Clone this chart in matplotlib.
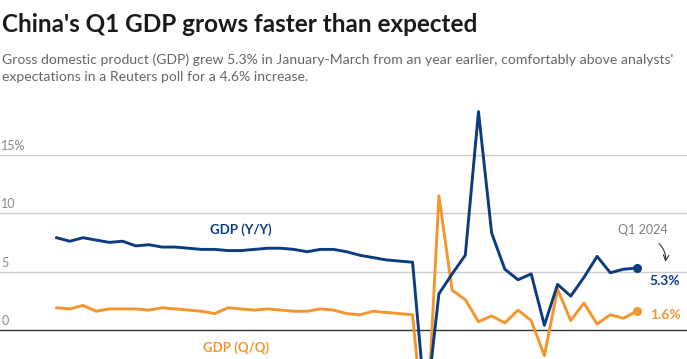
"""China quarterly GDP growth, Y/Y and Q/Q, 2013-2024."""

import matplotlib

matplotlib.use("Agg")
import matplotlib.pyplot as plt
import numpy as np

quarters = [f"{year}Q{q}" for year in range(2013, 2025) for q in range(1, 5)][:45]

gdp_yy = [
    7.9, 7.6, 7.9, 7.7,
    7.5, 7.6, 7.2, 7.3,
    7.1, 7.1, 7.0, 6.9,
    6.9, 6.8, 6.8, 6.9,
    7.0, 7.0, 6.9, 6.7,
    6.9, 6.9, 6.7, 6.4,
    6.2, 6.0, 5.9, 5.8,
    -6.9, 3.1, 4.8, 6.4,
    18.7, 8.3, 5.2, 4.3,
    4.8, 0.4, 3.9, 2.9,
    4.5, 6.3, 4.9, 5.2,
    5.3,
]

gdp_qq = [
    1.9, 1.8, 2.1, 1.6,
    1.8, 1.8, 1.8, 1.7,
    1.9, 1.8, 1.7, 1.6,
    1.4, 1.9, 1.8, 1.7,
    1.8, 1.7, 1.6, 1.6,
    1.8, 1.7, 1.4, 1.3,
    1.6, 1.5, 1.4, 1.3,
    -10.3, 11.5, 3.4, 2.6,
    0.7, 1.2, 0.6, 1.7,
    0.8, -2.2, 3.5, 0.8,
    2.3, 0.5, 1.3, 1.0,
    1.6,
]

y_ticks = [0, 5, 10, 15]
y_tick_labels = ["0", "5", "10", "15%"]

BLUE = "#0c3c80"
ORANGE = "#f4962e"
FONT = "Lato"


def main() -> None:
    plt.rcParams["font.family"] = [FONT, "DejaVu Sans"]
    fig = plt.figure(figsize=(6.87, 3.59), dpi=100)
    ax = fig.add_axes([0, 0, 1, 259 / 359])

    x = np.arange(len(quarters))
    ax.set_xlim(-4.3, 47.82)
    ax.set_ylim(-2.49, 19.7)

    for tick, label in zip(y_ticks, y_tick_labels):
        color = "#333333" if tick == 0 else "#cccccc"
        ax.axhline(tick, color=color, linewidth=1.0, zorder=1)
        ax.annotate(
            label,
            xy=(0, tick),
            xycoords=("axes fraction", "data"),
            xytext=(1, 2),
            textcoords="offset points",
            ha="left",
            va="bottom",
            fontsize=9,
            color="#8a8a8a",
        )

    ax.plot(x, gdp_yy, color=BLUE, linewidth=2.1, solid_joinstyle="round", zorder=3)
    ax.plot(x, gdp_qq, color=ORANGE, linewidth=2.1, solid_joinstyle="round", zorder=2)
    ax.plot(x[-1], gdp_yy[-1], "o", color=BLUE, markersize=5.5, zorder=4)
    ax.plot(x[-1], gdp_qq[-1], "o", color=ORANGE, markersize=5.5, zorder=4)

    ax.text(14.0, 8.6, "GDP (Y/Y)", color=BLUE, fontsize=9.5, fontweight="bold",
            ha="center", va="center")
    ax.text(13.6, -1.55, "GDP (Q/Q)", color=ORANGE, fontsize=9.5, fontweight="bold",
            ha="center", va="center")

    ax.text(45.0, gdp_yy[-1] - 1.15, f"{gdp_yy[-1]}%", color=BLUE, fontsize=10,
            fontweight="bold", ha="left", va="center")
    ax.text(45.0, gdp_qq[-1] - 0.3, f"{gdp_qq[-1]}%", color=ORANGE, fontsize=10,
            fontweight="bold", ha="left", va="center")
    ax.text(44.5, 8.55, "Q1 2024", color="#808080", fontsize=9, ha="center", va="center")
    ax.annotate(
        "",
        xy=(46.15, 5.6),
        xytext=(45.55, 7.55),
        arrowprops=dict(arrowstyle="->", color="#333333", linewidth=0.8,
                        connectionstyle="arc3,rad=-0.3"),
    )

    ax.axis("off")

    fig.text(0.003, 1 - 31.7 / 359, "China's Q1 GDP grows faster than expected",
             fontsize=17.5, fontweight="bold", color="#1a1a1a", va="baseline", ha="left")
    fig.text(0.003, 1 - 63.5 / 359,
             "Gross domestic product (GDP) grew 5.3% in January-March from an year "
             "earlier, comfortably above analysts'",
             fontsize=10.1, color="#666666", va="baseline", ha="left")
    fig.text(0.003, 1 - 81 / 359,
             "expectations in a Reuters poll for a 4.6% increase.",
             fontsize=10.1, color="#666666", va="baseline", ha="left")

    fig.savefig("out.png", dpi=100)
    plt.close(fig)


if __name__ == "__main__":
    main()
